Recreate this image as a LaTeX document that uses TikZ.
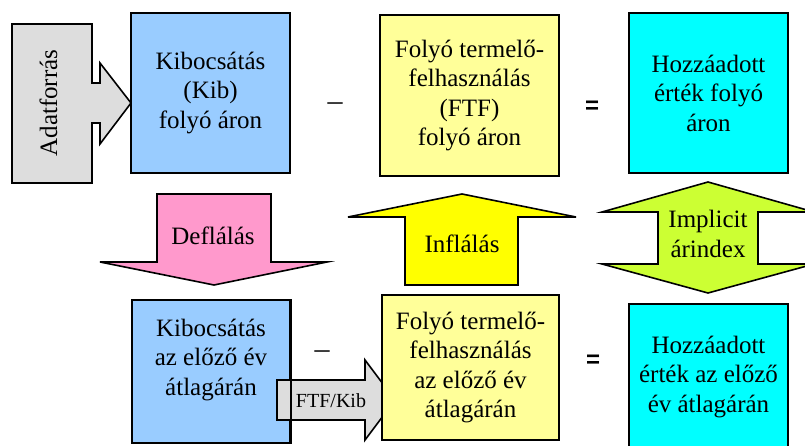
\documentclass[tikz,border=0pt]{standalone}
\usepackage{fontspec}
\setmainfont{Liberation Serif}
\newfontfamily\opfont{Liberation Sans}
\definecolor{kibblue}{HTML}{99CCFF}
\definecolor{ftfyellow}{HTML}{FFFF99}
\definecolor{hozcyan}{HTML}{00FFFF}
\definecolor{srcgray}{HTML}{DDDDDD}
\definecolor{defpink}{HTML}{FF99CC}
\definecolor{infyellow}{HTML}{FFFF00}
\definecolor{impgreen}{HTML}{CCFF33}
\begin{document}
\begin{tikzpicture}[x=1pt,y=-1pt,
  box/.style={draw=black, line width=1.6pt, align=center, inner sep=0pt,
    font=\fontsize{25}{29.5}\selectfont},
  arrowshape/.style={draw=black, line width=1.6pt, line join=miter},
  lbl/.style={align=center, inner sep=0pt, font=\fontsize{25}{29.5}\selectfont},
  smalllbl/.style={inner sep=0pt, font=\fontsize{20}{24}\selectfont},
  opsign/.style={inner sep=0pt, font=\fontsize{30}{34}\selectfont},
  eqsign/.style={inner sep=0pt, font=\opfont\bfseries\fontsize{24}{28}\selectfont}]
\useasboundingbox (0,0) rectangle (805,446);
\clip (0,0) rectangle (805,446);

% source arrow
\draw[arrowshape, fill=srcgray] (12,24) -- (92,24) -- (92,83) -- (100,83) -- (100,63)
  -- (131,103) -- (100,144) -- (100,123) -- (92,123) -- (92,183) -- (12,183) -- cycle;
\node[lbl, rotate=90] (adat) at (48.5,103) {Adatforrás};

% top row
\node[box, fill=kibblue, minimum width=159pt, minimum height=160pt] (kib) at (210.5,93)
  {Kibocsátás\\(Kib)\\folyó áron};
\node[opsign] (minus1) at (335,107) {\textendash};
\node[box, fill=ftfyellow, minimum width=179pt, minimum height=161pt] (ftf) at (469.5,95.5)
  {Folyó termelő-\\felhasználás\\(FTF)\\folyó áron};
\node[eqsign] (eq1) at (592,107) {=};
\node[box, fill=hozcyan, minimum width=159pt, minimum height=160pt] (hoz) at (708.5,93)
  {Hozzáadott\\érték folyó\\áron};

% middle arrows
\draw[arrowshape, fill=defpink] (157,194) -- (271,194) -- (271,262) -- (327,262)
  -- (214,285) -- (100,262) -- (157,262) -- cycle;
\node[lbl, anchor=base] (defl) at (213,244) {Deflálás};

\draw[arrowshape, fill=infyellow] (405,285) -- (518,285) -- (518,217) -- (576,217)
  -- (462,194) -- (348,217) -- (405,217) -- cycle;
\node[lbl, anchor=base] (infl) at (462,253) {Inflálás};

\draw[arrowshape, fill=impgreen] (708,182) -- (814,212) -- (758,212) -- (758,264)
  -- (814,264) -- (708,293) -- (602,264) -- (658,264) -- (658,212) -- (602,212) -- cycle;
\node[lbl] (impl) at (708,234) {Implicit\\árindex};

% bottom row
\node[box, fill=kibblue, minimum width=158pt, minimum height=143pt] (kib2) at (211,371.5) {};
\node[lbl] (kib2t) at (211,360) {Kibocsátás\\az előző év\\átlagárán};
\draw[arrowshape, fill=srcgray] (277,380) -- (365,380) -- (365,360) -- (395,400)
  -- (365,440) -- (365,420) -- (277,420) -- cycle;
\draw[line width=1.6pt] (kib2.north east) -- (kib2.south east);
\node[smalllbl, anchor=base] (ratio) at (331,407) {FTF/Kib};
\node[opsign] (minus2) at (322,355) {\textendash};
\node[box, fill=ftfyellow, minimum width=177pt, minimum height=145pt] (ftf2) at (470.5,367.5)
  {Folyó termelő-\\felhasználás\\az előző év\\átlagárán};
\node[eqsign] (eq2) at (593,361) {=};
\node[box, fill=hozcyan, minimum width=159pt, minimum height=146pt] (hoz2) at (708.5,377)
  {Hozzáadott\\érték az előző\\év átlagárán};
\end{tikzpicture}
\end{document}
